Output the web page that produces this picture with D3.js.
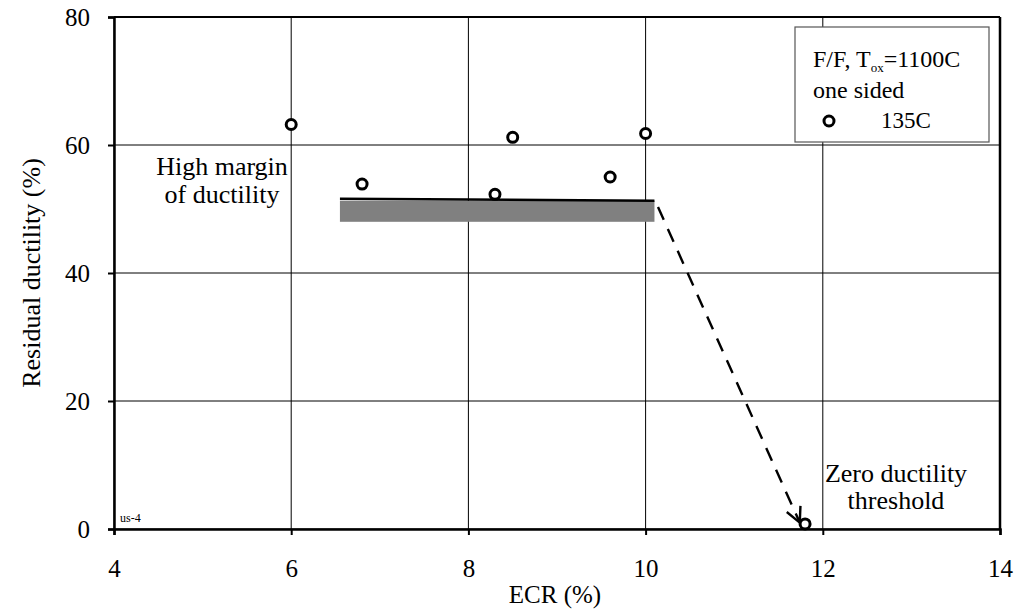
<!DOCTYPE html>
<html><head><meta charset="utf-8">
<script src="https://cdn.jsdelivr.net/npm/d3@7"></script>
<style>body{margin:0;background:#fff}svg{display:block}text{font-family:"Liberation Serif","Times New Roman",serif;fill:#000}</style>
</head><body><svg id="c" width="1035" height="614"></svg>
<script>
const ecr = [6.0, 6.8, 8.3, 8.5, 9.6, 10.0, 11.8];
const ductility = [63.2, 53.9, 52.3, 61.2, 55.0, 61.8, 0.8];
const xTicks = [4, 6, 8, 10, 12, 14];
const yTicks = [0, 20, 40, 60, 80];
const bandX = [6.55, 10.1];
const bandY = [48.0, 51.3];
const bandLine = [[6.55, 51.6], [10.1, 51.3]];
const arrowPts = [[10.14, 50.3], [11.74, 1.0]];

const svg = d3.select("#c");
const L = 114, R = 1000, T = 17, B = 529;
const x = d3.scaleLinear().domain([4, 14]).range([L, R]);
const y = d3.scaleLinear().domain([0, 80]).range([B, T]);

// grid
svg.append("g").selectAll("line").data(xTicks).join("line")
  .attr("x1", d => x(d)).attr("x2", d => x(d)).attr("y1", T).attr("y2", B)
  .attr("stroke", "#000").attr("stroke-width", 1);
svg.append("g").selectAll("line").data(yTicks).join("line")
  .attr("x1", L).attr("x2", R).attr("y1", d => y(d)).attr("y2", d => y(d))
  .attr("stroke", "#000").attr("stroke-width", 1);

// axes
const xa = svg.append("g").attr("transform", `translate(0,${B})`)
  .call(d3.axisBottom(x).tickValues(xTicks).tickSize(6).tickPadding(24).tickFormat(d3.format("d")));
const ya = svg.append("g").attr("transform", `translate(${L},0)`)
  .call(d3.axisLeft(y).tickValues(yTicks).tickSize(6).tickPadding(18).tickFormat(d3.format("d")));
[xa, ya].forEach(a => {
  a.select(".domain").attr("stroke", "#000").attr("stroke-width", 2.5);
  a.selectAll(".tick line").attr("stroke", "#000").attr("stroke-width", 2);
  a.selectAll(".tick text").attr("font-size", 25).style("font-family", '"Liberation Serif",serif');
});
// frame top/right
svg.append("line").attr("x1", L).attr("x2", R).attr("y1", T).attr("y2", T).attr("stroke", "#000").attr("stroke-width", 2);
svg.append("line").attr("x1", R).attr("x2", R).attr("y1", T).attr("y2", B).attr("stroke", "#000").attr("stroke-width", 2.5);

// band
svg.append("rect").attr("x", x(bandX[0])).attr("width", x(bandX[1]) - x(bandX[0]))
  .attr("y", y(bandY[1])).attr("height", y(bandY[0]) - y(bandY[1])).attr("fill", "#808080");
svg.append("line").attr("x1", x(bandLine[0][0])).attr("y1", y(bandLine[0][1]))
  .attr("x2", x(bandLine[1][0])).attr("y2", y(bandLine[1][1])).attr("stroke", "#000").attr("stroke-width", 2.5);

// arrow
svg.append("defs").append("marker").attr("id", "ah").attr("viewBox", "0 0 12 12")
  .attr("refX", 11).attr("refY", 6).attr("markerWidth", 18).attr("markerHeight", 18)
  .attr("markerUnits", "userSpaceOnUse").attr("orient", "auto")
  .append("path").attr("d", "M1,1 L11,6 L1,11").attr("fill", "none").attr("stroke", "#000").attr("stroke-width", 1.6);
svg.append("line").attr("x1", x(arrowPts[0][0])).attr("y1", y(arrowPts[0][1]))
  .attr("x2", x(arrowPts[1][0])).attr("y2", y(arrowPts[1][1]))
  .attr("stroke", "#000").attr("stroke-width", 2.4).attr("stroke-dasharray", "14,10")
  .attr("marker-end", "url(#ah)");

// points
svg.append("g").selectAll("circle").data(ecr.map((e, i) => [e, ductility[i]])).join("circle")
  .attr("cx", d => x(d[0])).attr("cy", d => y(d[1])).attr("r", 5)
  .attr("fill", "#fff").attr("stroke", "#000").attr("stroke-width", 3);

// annotations
const ann = (tx, ty, lines, size, lh) => {
  const t = svg.append("text").attr("text-anchor", "middle").attr("font-size", size);
  lines.forEach((l, i) => t.append("tspan").attr("x", tx).attr("y", ty + i * lh).text(l));
};
ann(222, 175, ["High margin", "of ductility"], 26, 28);
ann(896, 482, ["Zero ductility", "threshold"], 26, 27);
svg.append("text").attr("x", 120).attr("y", 522).attr("font-size", 12).text("us-4");

// axis titles
svg.append("text").attr("x", 555).attr("y", 603).attr("text-anchor", "middle").attr("font-size", 25).text("ECR (%)");
svg.append("text").attr("transform", `translate(40,273) rotate(-90)`).attr("text-anchor", "middle").attr("font-size", 26).text("Residual ductility (%)");

// legend
svg.append("rect").attr("x", 795).attr("y", 27).attr("width", 194).attr("height", 115)
  .attr("fill", "#fff").attr("stroke", "#555").attr("stroke-width", 1.2);
const lt = svg.append("text").attr("x", 813).attr("y", 67).attr("font-size", 24);
lt.append("tspan").text("F/F, T");
lt.append("tspan").attr("font-size", 13).attr("dy", 5).text("ox");
lt.append("tspan").attr("dy", -5).text("=1100C");
svg.append("text").attr("x", 813).attr("y", 98).attr("font-size", 24).text("one sided");
svg.append("circle").attr("cx", 829).attr("cy", 121).attr("r", 5).attr("fill", "#fff").attr("stroke", "#000").attr("stroke-width", 3);
svg.append("text").attr("x", 881).attr("y", 128).attr("font-size", 23).text("135C");
</script></body></html>
